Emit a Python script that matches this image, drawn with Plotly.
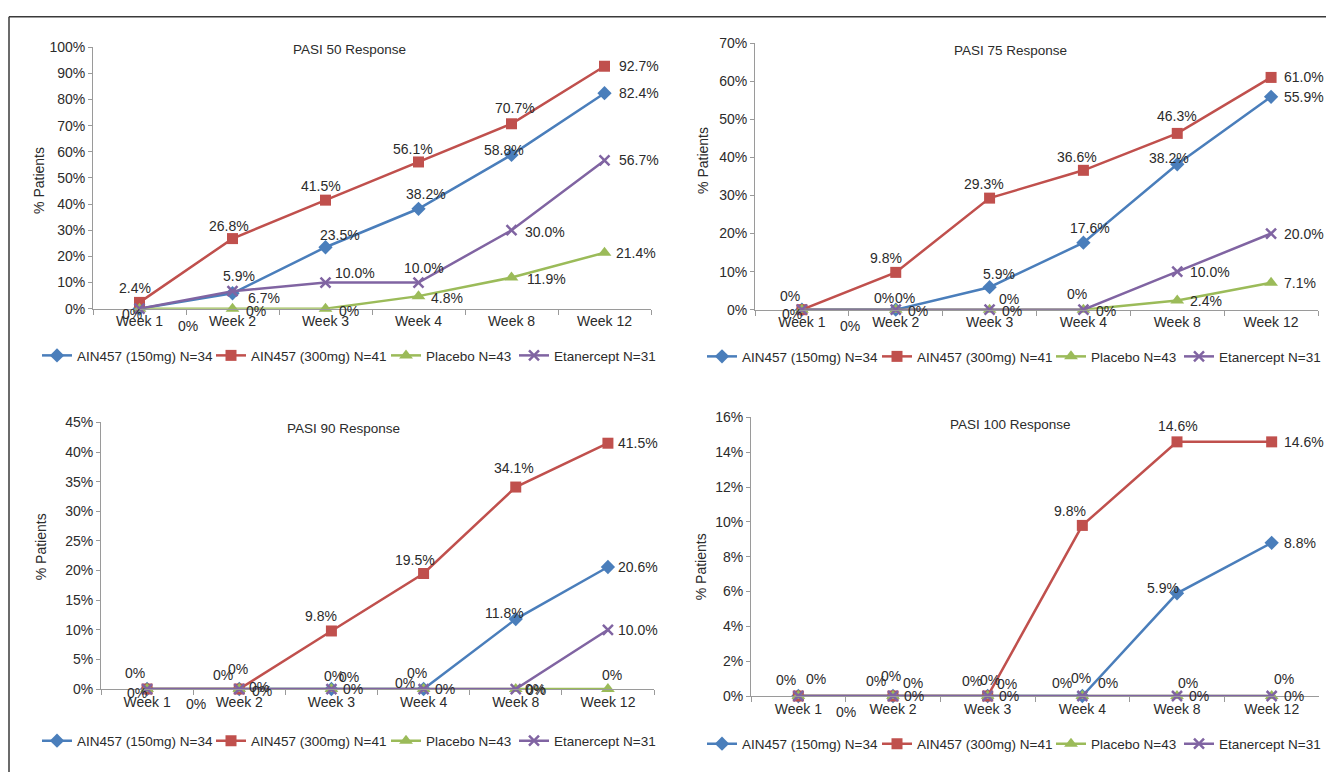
import plotly.graph_objects as go

W, H = 1334, 772
# photographed page: 8px body margin horizontally, vertical offset/scale measured
OX = 8
OY, SY = 14.8, 0.981

weeks = ["Week 1", "Week 2", "Week 3", "Week 4", "Week 8", "Week 12"]
series_names = ["AIN457 (150mg) N=34", "AIN457 (300mg) N=41", "Placebo N=43", "Etanercept N=31"]

# PASI 50
pasi50_150 = [0, 5.9, 23.5, 38.2, 58.8, 82.4]
pasi50_300 = [2.4, 26.8, 41.5, 56.1, 70.7, 92.7]
pasi50_plc = [0, 0, 0, 4.8, 11.9, 21.4]
pasi50_eta = [0, 6.7, 10.0, 10.0, 30.0, 56.7]

# PASI 75
pasi75_150 = [0, 0, 5.9, 17.6, 38.2, 55.9]
pasi75_300 = [0, 9.8, 29.3, 36.6, 46.3, 61.0]
pasi75_plc = [0, 0, 0, 0, 2.4, 7.1]
pasi75_eta = [0, 0, 0, 0, 10.0, 20.0]

# PASI 90
pasi90_150 = [0, 0, 0, 0, 11.8, 20.6]
pasi90_300 = [0, 0, 9.8, 19.5, 34.1, 41.5]
pasi90_plc = [0, 0, 0, 0, 0, 0]
pasi90_eta = [0, 0, 0, 0, 0, 10.0]

# PASI 100
pasi100_150 = [0, 0, 0, 0, 5.9, 8.8]
pasi100_300 = [0, 0, 0, 9.8, 14.6, 14.6]
pasi100_plc = [0, 0, 0, 0, 0, 0]
pasi100_eta = [0, 0, 0, 0, 0, 0]

colors = ["#4A7EBB", "#C0504D", "#9BBB59", "#8064A2"]
symbols = ["diamond", "square", "triangle-up", "x-thin"]
msizes = [11, 11, 12, 10]
FONT = "Liberation Sans, Arial, sans-serif"
TXT = "#2b2b2b"
AX = "#9a9a9a"


def PX(t):
    return (t - OX) / W


def PY(t):
    return 1 - ((t - OY) / SY) / H


# label placement (series index, point index, dx px, dy px) relative to the point
lab50 = [(1, 0, -5, -14), (0, 0, -8, 5), (2, 0, 48, 17),
         (1, 1, -4, -13), (0, 1, 6, -17), (3, 1, 31, 7), (2, 1, 23, 2),
         (1, 2, -5, -14), (0, 2, 14, -12), (3, 2, 29, -10), (2, 2, 23, 2),
         (1, 3, -6, -13), (0, 3, 7, -15), (3, 3, 5, -15), (2, 3, 28, 2),
         (1, 4, 3, -16), (0, 4, -8, -5), (3, 4, 33, 2), (2, 4, 35, 1),
         (1, 5, 34, 0), (0, 5, 34, 0), (3, 5, 34, 0), (2, 5, 31, 0)]
lab75 = [(1, 0, -12, -14), (0, 0, -10, 4), (2, 0, 48, 16),
         (1, 1, -10, -14), (0, 1, -12, -12), (3, 1, 9, -12), (2, 1, 22, 1),
         (1, 2, -6, -14), (0, 2, 9, -13), (3, 2, 19, -11), (2, 2, 22, 1),
         (1, 3, -6, -13), (0, 3, 7, -15), (3, 3, -6, -16), (2, 3, 23, 1),
         (1, 4, 0, -17), (0, 4, -8, -6), (3, 4, 33, 0), (2, 4, 29, 0),
         (1, 5, 33, 0), (0, 5, 33, 0), (3, 5, 33, 0), (2, 5, 29, 0)]
lab90 = [(0, 0, -12, -16), (2, 0, -10, 4), (3, 0, 49, 15),
         (0, 1, -16, -14), (3, 1, -1, -20), (1, 1, 20, -2), (2, 1, 23, 2),
         (1, 2, -10, -15), (0, 2, 3, -13), (3, 2, 18, -12), (2, 2, 22, 0),
         (1, 3, -9, -14), (0, 3, -19, -6), (3, 3, -7, -16), (2, 3, 21, 0),
         (1, 4, -2, -19), (0, 4, -11, -6), (3, 4, 19, 0), (2, 4, 20, 1),
         (1, 5, 30, 0), (0, 5, 30, 0), (3, 5, 30, 0), (2, 5, 4, -14)]
lab100 = [(0, 0, -12, -16), (1, 0, 18, -17), (2, 0, 48, 16),
          (0, 1, -17, -15), (1, 1, -2, -20), (3, 1, 20, -13), (2, 1, 21, 0),
          (0, 2, -16, -15), (1, 2, 2, -16), (3, 2, 19, -12), (2, 2, 21, 0),
          (1, 3, -12, -14), (0, 3, -20, -13), (3, 3, -1, -18), (2, 3, 26, -13),
          (1, 4, 1, -16), (0, 4, -14, -5), (3, 4, 11, -13), (2, 4, 22, 0),
          (1, 5, 32, 0), (0, 5, 28, 0), (3, 5, 12, -17), (2, 5, 22, 0)]

leg_left = [77, 251, 426, 554]      # text start of each legend entry
leg_right = [742, 917, 1091, 1219]

panels = [
    dict(title="PASI 50 Response", vals=[pasi50_150, pasi50_300, pasi50_plc, pasi50_eta],
         ymax=100, dtick=10, xd=(93, 651), yd=(308, 46), title_xy=(349, 48),
         ytitle_xy=(39, 180), leg_x=leg_left, leg_y=355, labels=lab50),
    dict(title="PASI 75 Response", vals=[pasi75_150, pasi75_300, pasi75_plc, pasi75_eta],
         ymax=70, dtick=10, xd=(755, 1318), yd=(309, 42), title_xy=(1010, 49),
         ytitle_xy=(703, 160), leg_x=leg_right, leg_y=356, labels=lab75),
    dict(title="PASI 90 Response", vals=[pasi90_150, pasi90_300, pasi90_plc, pasi90_eta],
         ymax=45, dtick=5, xd=(101, 654), yd=(689, 422), title_xy=(343, 428),
         ytitle_xy=(41, 547), leg_x=leg_left, leg_y=741, labels=lab90),
    dict(title="PASI 100 Response", vals=[pasi100_150, pasi100_300, pasi100_plc, pasi100_eta],
         ymax=16, dtick=2, xd=(751, 1319), yd=(696, 417), title_xy=(1010, 424),
         ytitle_xy=(701, 567), leg_x=leg_right, leg_y=744, labels=lab100),
]

fig = go.Figure()
annotations = []
layout = {}

for p_i, p in enumerate(panels):
    n = p_i + 1
    sfx = "" if n == 1 else str(n)
    for s_i in range(4):
        k = p_i * 4 + s_i + 1
        legname = "legend" if k == 1 else f"legend{k}"
        marker = dict(symbol=symbols[s_i], size=msizes[s_i], color=colors[s_i])
        if symbols[s_i] == "x-thin":
            marker["line"] = dict(width=2.5, color=colors[s_i])
        else:
            marker["line"] = dict(width=0)
        fig.add_trace(go.Scatter(
            x=weeks, y=p["vals"][s_i], mode="lines+markers", name=series_names[s_i],
            line=dict(color=colors[s_i], width=2.5), marker=marker,
            xaxis=f"x{sfx}", yaxis=f"y{sfx}", legend=legname, cliponaxis=False,
            hoverinfo="skip"))
        layout[legname] = dict(
            orientation="h", x=PX(p["leg_x"][s_i]) - 40 / W, xanchor="left",
            y=PY(p["leg_y"]), yanchor="middle",
            bgcolor="rgba(0,0,0,0)", borderwidth=0,
            font=dict(family=FONT, size=13.5, color=TXT), itemwidth=30)
    layout[f"xaxis{sfx}"] = dict(
        domain=[PX(p["xd"][0]), PX(p["xd"][1])], anchor=f"y{sfx}",
        type="category", range=[-0.5, 5.5], tickson="boundaries",
        ticks="outside", ticklen=5, tickcolor=AX, showline=True, linecolor=AX,
        linewidth=1, showgrid=False, zeroline=False,
        tickfont=dict(family=FONT, size=14, color=TXT))
    layout[f"yaxis{sfx}"] = dict(
        domain=[PY(p["yd"][0]), PY(p["yd"][1])], anchor=f"x{sfx}",
        range=[0, p["ymax"]], dtick=p["dtick"], ticksuffix="%",
        ticks="outside", ticklen=4, tickcolor=AX, showline=True, linecolor=AX,
        linewidth=1, showgrid=False, zeroline=False,
        tickfont=dict(family=FONT, size=14, color=TXT))
    annotations.append(dict(
        text=p["title"], x=PX(p["title_xy"][0]), y=PY(p["title_xy"][1]),
        xref="paper", yref="paper", showarrow=False, xanchor="center", yanchor="middle",
        font=dict(family=FONT, size=13.5, color=TXT)))
    annotations.append(dict(
        text="% Patients", x=PX(p["ytitle_xy"][0]), y=PY(p["ytitle_xy"][1]),
        xref="paper", yref="paper", showarrow=False, textangle=-90,
        xanchor="center", yanchor="middle",
        font=dict(family=FONT, size=14, color=TXT)))
    for (s_i, idx, dx, dy) in p["labels"]:
        v = p["vals"][s_i][idx]
        txt = f"{v:.1f}%" if v else "0%"
        annotations.append(dict(
            text=txt, x=weeks[idx], y=v, xref=f"x{sfx}", yref=f"y{sfx}",
            xshift=dx, yshift=-dy, showarrow=False, xanchor="center", yanchor="middle",
            font=dict(family=FONT, size=14, color=TXT)))

top_y = 1 - 0.8 / H
shapes = [
    dict(type="line", xref="paper", yref="paper", x0=PX(9), y0=top_y, x1=1, y1=top_y,
         line=dict(color="#3a3a3a", width=1.5)),
    dict(type="line", xref="paper", yref="paper", x0=PX(9), y0=top_y, x1=PX(9), y1=0,
         line=dict(color="#3a3a3a", width=1.5)),
]

fig.update_layout(
    width=W, height=H, margin=dict(l=0, r=0, t=0, b=0),
    paper_bgcolor="white", plot_bgcolor="white",
    font=dict(family=FONT, size=14, color=TXT),
    annotations=annotations, shapes=shapes, showlegend=True,
    **layout)

fig.write_html("out.html")
